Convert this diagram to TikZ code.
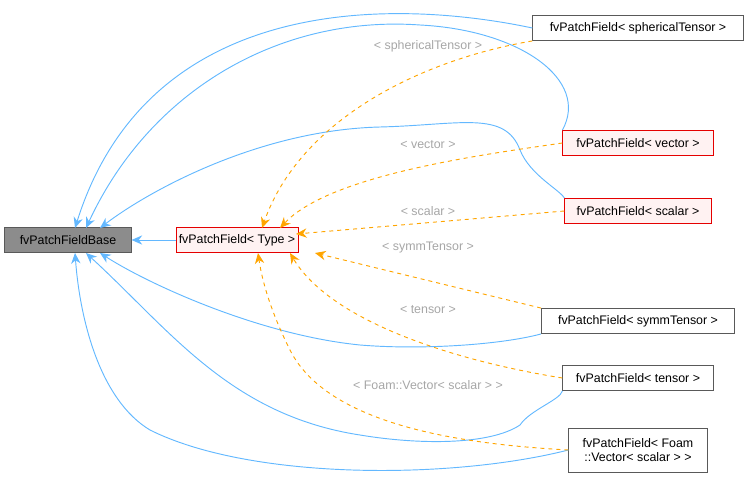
\documentclass[tikz,border=0pt]{standalone}
\usepackage{fontspec}
\usetikzlibrary{arrows.meta}
\setmainfont{Liberation Sans}
\definecolor{edgeblue}{HTML}{63B8FF}
\definecolor{amber}{HTML}{FFA500}
\begin{document}
\begin{tikzpicture}[x=0.75pt,y=-0.75pt,
 box/.style={draw=black!65,fill=white,minimum height=19pt,inner xsep=2pt,font=\fontsize{9.3}{10.5}\selectfont,align=center},
 red/.style={box,draw=red!90!black,fill=red!5},
 inh/.style={draw=edgeblue,line width=0.7pt,-{Stealth[length=8pt,width=7pt]}},
 tmp/.style={draw=amber,line width=0.7pt,dashed,-{Stealth[length=8pt,width=7pt]}},
 lab/.style={text=black!35,font=\fontsize{9.3}{10.5}\selectfont}]
\useasboundingbox (0,0) rectangle (749,492);
\node[box,fill=black!45,minimum width=95pt] (base) at (68,240) {fvPatchFieldBase};
\node[red,minimum width=88pt] (type) at (237,240) {fvPatchField< Type >};
\node[box,minimum width=158pt] (sph) at (638,28) {fvPatchField< sphericalTensor >};
\node[red,minimum width=113pt] (vec) at (638,143) {fvPatchField< vector >};
\node[red,minimum width=110pt] (sca) at (638,211) {fvPatchField< scalar >};
\node[box,minimum width=145pt] (sym) at (638,321) {fvPatchField< symmTensor >};
\node[box,minimum width=113pt] (ten) at (638,378) {fvPatchField< tensor >};
\node[box,minimum width=104pt,minimum height=33pt] (foam) at (638,450) {fvPatchField< Foam\\::Vector< scalar > >};
\coordinate (b1) at (75,228); \coordinate (b2) at (86,228); \coordinate (b3) at (100,228);
\coordinate (b4) at (100,253); \coordinate (b5) at (86,253); \coordinate (b6) at (75,253);
\draw[inh] (type) -- (base);
\draw[inh] (sph.west) .. controls (400,0) and (150,-10) .. (b1);
\draw[inh] (vec.north west) .. controls (590,80) and (520,30) .. (420,25) .. controls (280,15) and (150,90) .. (b2);
\draw[inh] (sca.north west) .. controls (560,190) and (530,175) .. (520,150) .. controls (505,110) and (460,125) .. (380,127) .. controls (260,130) and (150,190) .. (b3);
\draw[inh] (sym.south west) .. controls (500,345) and (420,350) .. (360,345) .. controls (260,335) and (150,285) .. (b4);
\draw[inh] (ten.south west) .. controls (560,400) and (530,410) .. (520,425) .. controls (490,445) and (420,445) .. (360,435) .. controls (230,415) and (170,330) .. (b5);
\draw[inh] (foam.west) .. controls (450,480) and (250,480) .. (150,430) .. controls (100,400) and (80,320) .. (b6);
\draw[tmp] (sph.south west) .. controls (420,60) and (300,120) .. (262,228);
\node[lab] (l1) at (428,46) {< sphericalTensor >};
\draw[tmp] (vec.west) .. controls (480,155) and (330,175) .. (280,228);
\node[lab] (l2) at (428,145) {< vector >};
\draw[tmp] (sca.west) -- (296,234);
\node[lab] (l3) at (428,211) {< scalar >};
\draw[tmp] (sym.north west) -- (315,253);
\node[lab] (l4) at (428,248) {< symmTensor >};
\draw[tmp] (ten.west) .. controls (450,360) and (330,320) .. (290,253);
\node[lab] (l5) at (428,310) {< tensor >};
\draw[tmp] (foam.west) .. controls (480,445) and (330,430) .. (290,350) .. controls (270,310) and (262,280) .. (258,253);
\node[lab] (l6) at (428,385) {< Foam::Vector< scalar > >};
\end{tikzpicture}
\end{document}
